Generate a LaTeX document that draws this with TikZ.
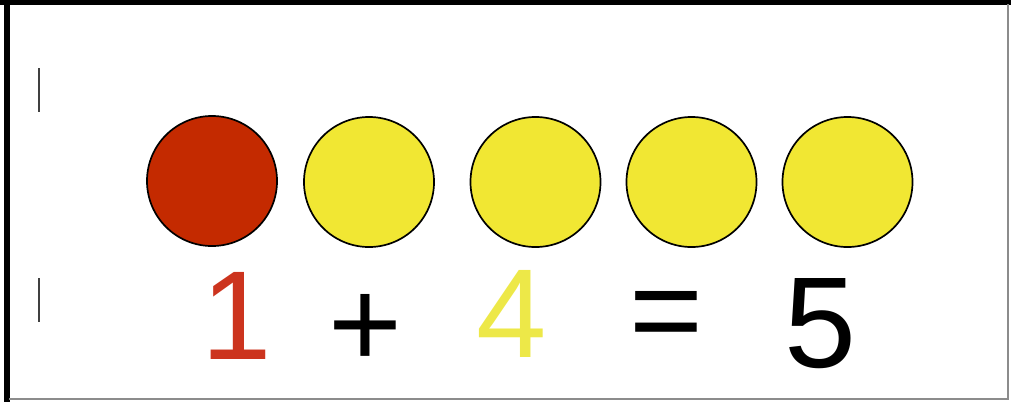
\documentclass[tikz,border=0pt]{standalone}
\usepackage{fontspec}
\setmainfont{Liberation Sans}
\usetikzlibrary{positioning}

\definecolor{redball}{RGB}{196,42,0}
\definecolor{yellowball}{RGB}{241,231,51}
\definecolor{rednum}{RGB}{204,52,30}
\definecolor{yellownum}{RGB}{237,232,72}

\begin{document}
\begin{tikzpicture}[
  x=0.025cm,y=-0.025cm,
  ball/.style={circle,draw,line width=1.2pt,minimum size=3.25cm,inner sep=0pt},
  num/.style={font=\fontsize{90}{90}\selectfont,inner sep=0pt},
  tick/.style={draw=black!75,line width=1.8pt}
]
\useasboundingbox (0,0) rectangle (1011,402);
% frame
\draw[line width=3.6pt] (0,2.5) -- (1011,2.5);
\draw[line width=4.3pt] (7,0) -- (7,402);
\draw[black!45,line width=1.3pt] (1008,4) -- (1008,399) -- (9,399);
\draw[tick] (39,68) -- (39,112);
\draw[tick] (39,278) -- (39,322);
% counters
\node[ball,fill=redball] (c1) at (212,181) {};
\node[ball,fill=yellowball] (c2) at (369,182) {};
\node[ball,fill=yellowball] (c3) at (535.5,182) {};
\node[ball,fill=yellowball] (c4) at (691.5,182) {};
\node[ball,fill=yellowball] (c5) at (847.5,182) {};
% sum
\node[num,text=rednum] (one) at (237,316) {1};
\node[num] (plus) at (365,331) {+};
\node[num,text=yellownum] (four) at (512,314) {4};
\node[num] (eq) at (666,322) {=};
\node[num,font=\fontsize{92}{92}\selectfont] (five) at (820,324) {5};
\end{tikzpicture}
\end{document}
